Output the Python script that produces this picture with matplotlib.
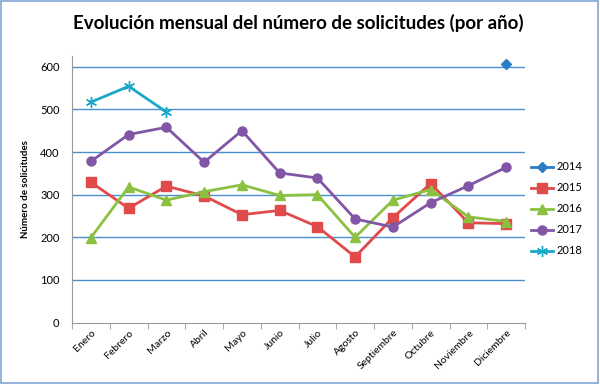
import numpy as np
import matplotlib.pyplot as plt

meses = ['Enero', 'Febrero', 'Marzo', 'Abril', 'Mayo', 'Junio', 'Julio',
         'Agosto', 'Septiembre', 'Octubre', 'Noviembre', 'Diciembre']
nan = np.nan
s2014 = [nan, nan, nan, nan, nan, nan, nan, nan, nan, nan, nan, 607]
s2015 = [329, 268, 320, 297, 253, 263, 225, 154, 246, 326, 234, 232]
s2016 = [199, 318, 287, 307, 323, 298, 300, 200, 287, 312, 248, 237]
s2017 = [378, 441, 458, 376, 450, 351, 339, 243, 224, 281, 321, 364]
s2018 = [517, 554, 494, nan, nan, nan, nan, nan, nan, nan, nan, nan]

series = [('2014', s2014, '#2a7dc4', 'D', 5),
          ('2015', s2015, '#e04a4a', 's', 6.5),
          ('2016', s2016, '#8cc040', '^', 7),
          ('2017', s2017, '#8156a6', 'o', 6.5),
          ('2018', s2018, '#1aa8c8', (6, 2, 0), 8)]

plt.rcParams['font.family'] = ['Lato', 'DejaVu Sans']

fig = plt.figure(figsize=(6, 3.84), dpi=100)
ax = fig.add_axes([0.12, 0.16, 0.755, 0.694])

x = np.arange(len(meses))
for name, vals, col, mk, ms in series:
    ax.plot(x, vals, color=col, lw=2, marker=mk, markersize=ms,
            markeredgewidth=1, label=name)

ax.set_xlim(-0.5, 11.5)
ax.set_ylim(0, 625)
ax.set_yticks(range(0, 700, 100))
for v in range(100, 700, 100):
    ax.axhline(v, color='#4a8fd0', lw=1, zorder=0)

ax.set_xticks(x)
ax.set_xticklabels(meses, rotation=45, ha='right', rotation_mode='anchor', fontsize=7.5)
ax.set_xticks(np.arange(-0.5, 12, 1), minor=True)
ax.tick_params(axis='x', which='major', length=0, pad=4)
ax.tick_params(axis='x', which='minor', length=4, color='#999999')
ax.tick_params(axis='y', length=0, labelsize=8, pad=9)

for s in ['top', 'right']:
    ax.spines[s].set_visible(False)
ax.spines['left'].set_color('#999999')
ax.spines['bottom'].set_color('#999999')

ax.set_ylabel('Número de solicitudes', fontsize=7, fontweight='bold', labelpad=7)
fig.suptitle('Evolución mensual del número de solicitudes (por año)',
             x=0.497, y=0.965, fontsize=13.5, fontweight='bold')

fig.legend(loc='center left', bbox_to_anchor=(0.868, 0.456), frameon=False,
           fontsize=8, handlelength=2, labelspacing=0.9, handletextpad=0.3)

fig.patches.append(plt.Rectangle((0.002, 0.003), 0.995, 0.994, transform=fig.transFigure,
                                 fill=False, edgecolor='#7fa8d8', lw=1.2))

fig.savefig('out.png', dpi=100)
